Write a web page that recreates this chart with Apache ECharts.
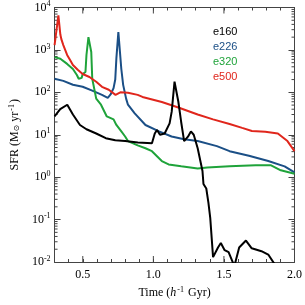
<!DOCTYPE html>
<html><head><meta charset="utf-8">
<script src="https://cdn.jsdelivr.net/npm/echarts@6/dist/echarts.min.js"></script>
<style>html,body{margin:0;padding:0;background:#fff}#c{width:305px;height:305px}</style>
</head><body><div id="c"></div>
<script>
const seriesNames = ['e160', 'e226', 'e320', 'e500'];
const seriesColors = ['#000000', '#1b4f86', '#1fa33a', '#e0261c'];

const timeE160 = [0.30,0.34,0.39,0.43,0.48,0.526,0.595,0.663,0.73,0.80,0.89,0.99,1.01,1.026,1.047,1.08,1.115,1.13,1.15,1.177,1.197,1.218,1.245,1.266,1.286,1.314,1.348,1.355,1.375,1.39,1.403,1.423,1.458,1.478,1.505,1.533,1.574,1.608,1.656,1.697,1.766,1.814,1.868];
const sfrE160 = [27,40,51,30,17,13.5,10.7,8.3,7.4,7.1,6.6,6.3,10.7,13,10,10.7,18.6,35,178,60,20,7.1,9,12,10,4.8,1.4,0.69,0.54,0.25,0.11,0.013,0.022,0.028,0.019,0.017,0.008,0.022,0.032,0.021,0.018,0.015,0.008];

const timeE226 = [0.30,0.362,0.43,0.499,0.567,0.636,0.677,0.697,0.718,0.73,0.738,0.752,0.773,0.786,0.807,0.82,0.868,0.944,1.04,1.129,1.218,1.314,1.45,1.54,1.677,1.814,1.93,2.0];
const sfrE226 = [209,186,151,135,110,87,74,89,126,200,630,2630,355,150,71,51,32,17,12,9.1,7.8,7.1,5.4,4.1,3.2,2.4,1.8,1.3];

const timeE320 = [0.30,0.341,0.389,0.43,0.458,0.471,0.492,0.499,0.519,0.526,0.54,0.56,0.567,0.595,0.629,0.67,0.718,0.738,0.773,0.80,0.82,0.889,0.944,0.99,1.04,1.06,1.108,1.197,1.314,1.382,1.54,1.725,1.834,1.903,2.0];
const sfrE320 = [676,617,468,355,257,209,219,269,302,759,2000,891,209,71,51,27,23,17,12,9.1,7.1,5.6,4.8,4.1,2.8,2.4,2.0,1.8,1.6,1.7,1.8,1.9,1.9,1.45,1.2];

const timeE500 = [0.30,0.327,0.341,0.348,0.362,0.389,0.41,0.43,0.464,0.499,0.547,0.595,0.636,0.684,0.732,0.766,0.82,0.889,0.923,1.06,1.177,1.314,1.423,1.54,1.629,1.698,1.793,1.882,1.95,2.0];
const sfrE500 = [1300,6500,2300,1800,1300,760,575,440,340,270,230,178,135,115,87,100,98,87,78,59,44,30,23,18,14.5,12.3,11.7,10.7,7.1,4.1];

const xTickLabels = ['0.5', '1.0', '1.5', '2.0'];
const X_MIN = 0.3, X_MAX = 2.0, Y_MIN = 0.01, Y_MAX = 10000;

const times = [timeE160, timeE226, timeE320, timeE500];
const sfrs = [sfrE160, sfrE226, sfrE320, sfrE500];

// tick helper data (positions of log minor ticks and major x ticks)
const tickData = [];
for (let n = -2; n < 4; n++) for (let k = 2; k <= 9; k++) tickData.push([0, k * Math.pow(10, n)]);
xTickLabels.forEach(l => tickData.push([1, parseFloat(l)]));

const chart = echarts.init(document.getElementById('c'), null, {renderer: 'canvas'});
const axisColor = '#444';
const serif = 'Liberation Serif';
const option = {
  animation: false,
  backgroundColor: '#fff',
  grid: {left: 49, right: 8, top: 5, bottom: 43, containLabel: false},
  legend: {
    orient: 'vertical', left: 203, top: 21, itemWidth: 0, itemHeight: 12, itemGap: 3,
    selectedMode: false,
    textStyle: {fontFamily: 'Liberation Sans', fontSize: 11},
    data: seriesNames.map((n, i) => ({name: n, icon: 'rect', textStyle: {color: seriesColors[i]}}))
  },
  xAxis: [{
    type: 'value', min: X_MIN, max: X_MAX, interval: 0.1, position: 'bottom',
    name: '{a|Time (}{i|h}{s|-1}{a| Gyr)}', nameLocation: 'middle', nameGap: 14,
    nameTextStyle: {rich: {
      a: {fontFamily: serif, fontSize: 12, color: '#000'},
      i: {fontFamily: serif, fontSize: 12, fontStyle: 'italic', color: '#000'},
      s: {fontFamily: serif, fontSize: 8, color: '#000', padding: [0, 1, 6, 1]}
    }},
    axisLine: {show: true, lineStyle: {color: axisColor, width: 1}},
    axisTick: {show: true, inside: true, length: 3, lineStyle: {color: axisColor}},
    splitLine: {show: false},
    axisLabel: {
      margin: 7, fontFamily: serif, fontSize: 12, color: '#000', showMinLabel: true, showMaxLabel: true,
      formatter: v => { const s = v.toFixed(1); return xTickLabels.includes(s) ? s : ''; }
    }
  }, {
    type: 'value', min: X_MIN, max: X_MAX, interval: 0.1, position: 'top',
    axisLine: {show: true, lineStyle: {color: axisColor, width: 1}},
    axisTick: {show: true, inside: true, length: 3, lineStyle: {color: axisColor}},
    axisLabel: {show: false}, splitLine: {show: false}
  }],
  yAxis: [{
    type: 'log', logBase: 10, min: Y_MIN, max: Y_MAX, position: 'left',
    name: '{a|SFR (M}{o|⊙}{a| yr}{s|-1}{a|)}', nameLocation: 'middle', nameGap: 21, nameRotate: 90,
    nameTextStyle: {rich: {
      a: {fontFamily: serif, fontSize: 12, color: '#000'},
      o: {fontFamily: 'DejaVu Sans', fontSize: 8, color: '#000', padding: [4, 0, 0, 0]},
      s: {fontFamily: serif, fontSize: 8, color: '#000', padding: [0, 1, 6, 1]}
    }},
    axisLine: {show: true, lineStyle: {color: axisColor, width: 1}},
    axisTick: {show: true, inside: true, length: 6, lineStyle: {color: axisColor}},
    splitLine: {show: false}, minorTick: {show: false},
    axisLabel: {
      margin: 4, color: '#000',
      formatter: v => '{b|10}{s|' + Math.round(Math.log10(v)) + '}',
      rich: {
        b: {fontFamily: serif, fontSize: 12, color: '#000'},
        s: {fontFamily: serif, fontSize: 8, color: '#000', padding: [0, 0, 7, 0]}
      }
    }
  }, {
    type: 'log', logBase: 10, min: Y_MIN, max: Y_MAX, position: 'right',
    axisLine: {show: true, lineStyle: {color: axisColor, width: 1}},
    axisTick: {show: true, inside: true, length: 6, lineStyle: {color: axisColor}},
    axisLabel: {show: false}, splitLine: {show: false}
  }],
  series: seriesNames.map((n, i) => ({
    name: n, type: 'line', xAxisIndex: 0, yAxisIndex: 0,
    showSymbol: false, symbol: 'none', clip: true, smooth: false,
    color: seriesColors[i],
    lineStyle: {color: seriesColors[i], width: 2},
    data: times[i].map((t, j) => [t, sfrs[i][j]]),
    z: 2 + (i === 0 ? 4 : i)
  })).concat([{
    name: 'ticks', type: 'custom', xAxisIndex: 0, yAxisIndex: 0, silent: true,
    data: tickData,
    renderItem: (params, api) => {
      const kind = api.value(0), v = api.value(1);
      const st = {stroke: axisColor, lineWidth: 1};
      if (kind === 0) {
        const a = api.coord([X_MIN, v]), b = api.coord([X_MAX, v]);
        return {type: 'group', children: [
          {type: 'line', shape: {x1: a[0], y1: a[1], x2: a[0] + 3, y2: a[1]}, style: st},
          {type: 'line', shape: {x1: b[0], y1: b[1], x2: b[0] - 3, y2: b[1]}, style: st}
        ]};
      } else {
        const a = api.coord([v, Y_MIN]), b = api.coord([v, Y_MAX]);
        return {type: 'group', children: [
          {type: 'line', shape: {x1: a[0], y1: a[1], x2: a[0], y2: a[1] - 6}, style: st},
          {type: 'line', shape: {x1: b[0], y1: b[1], x2: b[0], y2: b[1] + 6}, style: st}
        ]};
      }
    }
  }])
};
chart.setOption(option);
</script>
</body></html>
